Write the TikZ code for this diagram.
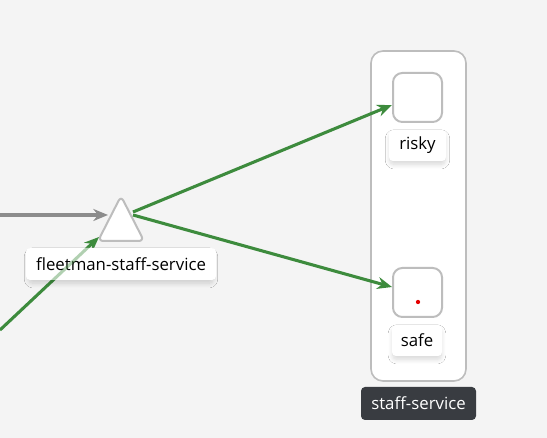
\documentclass[tikz,border=0pt]{standalone}
\usepackage{fontspec}
\setmainfont{Open Sans}
\usetikzlibrary{arrows.meta,shadows.blur}
\definecolor{bg}{HTML}{F4F4F4}
\definecolor{edgegreen}{HTML}{3D8B3D}
\definecolor{edgegray}{HTML}{8C8C8C}
\definecolor{nodeborder}{HTML}{BDBDBD}
\definecolor{darklabel}{HTML}{393C41}
\tikzset{
  px/.style={x=0.75pt,y=-0.75pt},
  nodebox/.style={draw=nodeborder,line width=1.5pt,fill=white,rounded corners=7pt},
  lab/.style={fill=white,rounded corners=3pt,inner sep=0pt,
    blur shadow={shadow blur steps=12,shadow xshift=0pt,shadow yshift=-3pt,shadow scale=0.97,shadow opacity=16,shadow blur radius=3.5pt},font=\fontsize{12.6}{15}\selectfont},
  conn/.style={line width=2.3pt,-{Stealth[length=11pt,width=9pt,inset=3.5pt]}},
}
\begin{document}
\begin{tikzpicture}[px]
\useasboundingbox[fill=bg] (0,0) rectangle (547,438);
% container
\node[draw=nodeborder,line width=1.2pt,fill=white,rounded corners=9pt,minimum width=71.25pt,minimum height=247.5pt,inner sep=0pt] (box) at (418.5,216) {};
% nodes
\node[nodebox,minimum width=36.75pt,minimum height=36.75pt,inner sep=0pt] (risky) at (417.5,97.5) {};
\node[nodebox,minimum width=36.75pt,minimum height=36.75pt,inner sep=0pt] (safe) at (417.5,292.5) {};
\fill[red!90!black] (418,302) circle (1.6pt) coordinate (dot);
% triangle
\draw[draw=nodeborder,line width=1.5pt,fill=white,rounded corners=4pt] (121,196) coordinate (tri) -- (144,241) -- (98,241) -- cycle;
% free ends
\coordinate (leftin) at (0,215);
\coordinate (bottomin) at (0,330);
\coordinate (greenend) at (99,237);
% edges
\draw[conn,edgegray] (leftin) -- (108,215) coordinate (grayend);
\draw[conn,edgegreen] (bottomin) -- (greenend);
\draw[conn,edgegreen] (133,212) -- (risky.west|-0,105);
\draw[conn,edgegreen] (133,215) -- (safe.west|-0,287);
% labels
\node[lab,minimum width=142.5pt,minimum height=24pt] (tlab) at (121,264) {fleetman-staff-service};
\begin{scope}
\clip[rounded corners=3pt] (tlab.south west) rectangle (tlab.north east);
\draw[edgegreen,opacity=0.4,line width=2.3pt] (bottomin) -- (greenend);
\end{scope}
\node[lab,minimum width=42.75pt,minimum height=23.25pt] (rlab) at (417.5,145.5) {risky};
\node[lab,minimum width=37.5pt,minimum height=23.25pt] (slab) at (417,340.5) {safe};
\node[fill=darklabel,text=white,rounded corners=3pt,minimum width=86.25pt,minimum height=24.75pt,inner sep=0pt,font=\fontsize{12.6}{15}\selectfont] (boxlab) at (418.5,403.5) {staff-service};
\end{tikzpicture}
\end{document}
